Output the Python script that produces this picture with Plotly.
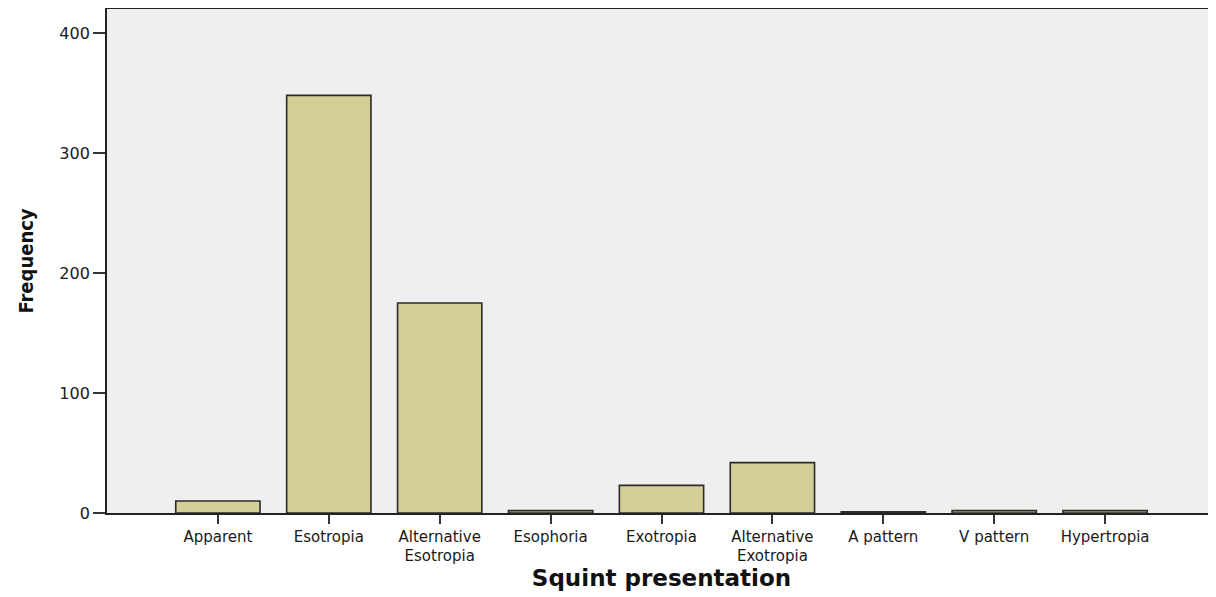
import plotly.graph_objects as go

categories = ["Apparent", "Esotropia", "Alternative<br>Esotropia", "Esophoria", "Exotropia",
              "Alternative<br>Exotropia", "A pattern", "V pattern", "Hypertropia"]
frequency = [10, 348, 175, 2, 23, 42, 1, 2, 2]
y_ticks = [0, 100, 200, 300, 400]

fig = go.Figure(go.Bar(
    x=categories, y=frequency,
    marker=dict(color="#d3cf96", line=dict(color="#2b2b2b", width=1.6)),
    hoverinfo="x+y",
))

fig.update_layout(
    width=1208, height=589,
    margin=dict(l=99, r=0, t=1, b=84),
    paper_bgcolor="white", plot_bgcolor="#efefef",
    bargap=0.24,
    showlegend=False,
    font=dict(family="DejaVu Sans, Verdana, sans-serif", size=15, color="#1a1a1a"),
)
fig.update_xaxes(
    type="category", range=[-1, 9],
    showline=True, linecolor="#222", linewidth=1.8, mirror=True,
    ticks="outside", ticklen=9, tickwidth=1.6, tickcolor="#333",
    showgrid=False, tickfont=dict(size=15),
    title=dict(text="<b>Squint presentation</b>",
               font=dict(family="DejaVu Sans, Verdana, sans-serif", size=23, color="#111"),
               standoff=4),
)
fig.update_yaxes(
    range=[0, 420], tickvals=y_ticks,
    showline=True, linecolor="#222", linewidth=1.8,
    ticks="outside", ticklen=12, tickwidth=1.6, tickcolor="#333",
    showgrid=False, zeroline=False, tickfont=dict(size=16),
    title=dict(text="<b>Frequency</b>",
               font=dict(family="DejaVu Sans Condensed, DejaVu Sans, sans-serif", size=20, color="#111"),
               standoff=20),
)

fig.write_html("out.html")
